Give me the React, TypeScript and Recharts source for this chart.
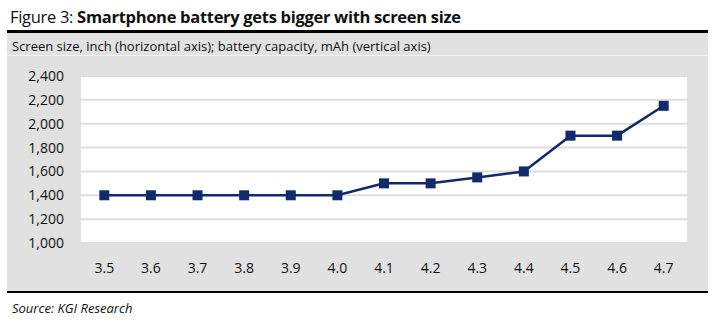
import { CartesianGrid, Line, LineChart, XAxis, YAxis } from 'recharts';

const screenSizes = ['3.5', '3.6', '3.7', '3.8', '3.9', '4.0', '4.1', '4.2', '4.3', '4.4', '4.5', '4.6', '4.7'];
const batteryMah = [1400, 1400, 1400, 1400, 1400, 1400, 1500, 1500, 1550, 1600, 1900, 1900, 2150];
const yTicks = [1000, 1200, 1400, 1600, 1800, 2000, 2200, 2400];

const data = screenSizes.map((size, i) => ({ size, mah: batteryMah[i] }));

const NAVY = '#102a6b';
const FONT = '"Open Sans", "Noto Sans", sans-serif';

const SquareDot = (props: any) => {
  const { cx, cy, index } = props;
  if (cx == null || cy == null) return null;
  return <rect key={`dot-${index}`} x={cx - 5} y={cy - 5} width={10} height={10} fill={NAVY} />;
};

export default function App() {
  return (
    <div style={{ position: 'absolute', left: 0, top: 0, width: 715, height: 322, background: '#fff', fontFamily: FONT, color: '#111' }}>
      <div style={{ position: 'absolute', left: 10, top: 5, fontSize: 16.5, letterSpacing: -0.3, whiteSpace: 'nowrap' }}>
        Figure 3: <b>Smartphone battery gets bigger with screen size</b>
      </div>
      <div style={{ position: 'absolute', left: 7, top: 30, width: 701, height: 3, background: '#000' }} />
      <div style={{ position: 'absolute', left: 7, top: 33, width: 701, height: 258, background: '#e1e1e1' }} />
      <div style={{ position: 'absolute', left: 7, top: 55, width: 701, height: 1, background: '#f2f2f2' }} />
      <div style={{ position: 'absolute', left: 12, top: 37, fontSize: 13, whiteSpace: 'nowrap' }}>
        Screen size, inch (horizontal axis); battery capacity, mAh (vertical axis)
      </div>
      <div style={{ position: 'absolute', left: 7, top: 291, width: 701, height: 2, background: '#000' }} />
      <div style={{ position: 'absolute', left: 12, top: 299, fontSize: 13, fontStyle: 'italic', whiteSpace: 'nowrap' }}>
        Source: KGI Research
      </div>
      <div style={{ position: 'absolute', left: 7, top: 56 }}>
        <LineChart width={701} height={235} data={data} margin={{ top: 20, right: 21, bottom: 18, left: 14 }}>
          <CartesianGrid vertical={false} fill="#fff" stroke="#dedede" strokeWidth={2} />
          <XAxis
            dataKey="size"
            scale="band"
            axisLine={false}
            tickLine={false}
            tickMargin={14}
            height={30}
            tick={{ fill: '#111', fontSize: 14, fontFamily: FONT }}
          />
          <YAxis
            domain={[1000, 2400]}
            ticks={yTicks}
            interval={0}
            axisLine={false}
            tickLine={false}
            width={60}
            tickMargin={11}
            tickFormatter={(v: number) => v.toLocaleString('en-US')}
            tick={{ fill: '#111', fontSize: 14, fontFamily: FONT }}
          />
          <Line
            type="linear"
            dataKey="mah"
            stroke={NAVY}
            strokeWidth={2.5}
            dot={SquareDot}
            activeDot={false}
            isAnimationActive={false}
          />
        </LineChart>
      </div>
    </div>
  );
}
